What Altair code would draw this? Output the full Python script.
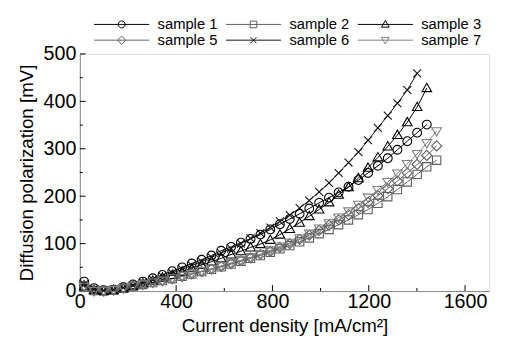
import altair as alt
import pandas as pd

# current density grid [mA/cm2]
x_vals = [18, 59, 99, 140, 181, 221, 262, 303, 343, 384, 425, 465, 506, 547, 587,
          628, 669, 709, 750, 791, 831, 872, 913, 953, 994, 1035, 1075, 1116, 1157,
          1197, 1238, 1279, 1319, 1360, 1401, 1441, 1482]

s1 = [20, 6, 2, 3, 8, 14, 20, 27, 34, 42, 50, 58, 66, 75, 85, 93, 102, 110, 119, 130,
      141, 152, 163, 174, 186, 197, 208, 220, 234, 249, 264, 280, 298, 316, 334, 351]
s2 = [8, 1, 0, 2, 6, 10, 14, 18, 22, 26, 31, 36, 41, 46, 51, 57, 63, 69, 75, 82, 89,
      96, 104, 112, 121, 130, 140, 150, 161, 172, 185, 199, 214, 230, 246, 262, 276]
s3 = [10, 2, 0, 2, 6, 11, 16, 22, 28, 34, 41, 48, 55, 62, 69, 77, 84, 92, 99, 108,
      119, 131, 144, 158, 172, 187, 203, 219, 238, 260, 282, 305, 329, 356, 388, 428]
s5 = [12, 1, 0, 2, 6, 10, 14, 18, 22, 26, 31, 36, 41, 46, 52, 58, 64, 70, 77, 84, 92,
      100, 109, 118, 128, 139, 150, 161, 174, 187, 201, 216, 232, 249, 267, 286, 306]
s6 = [14, 4, 1, 3, 7, 12, 18, 24, 31, 38, 46, 54, 62, 71, 80, 90, 100, 111, 122, 134,
      147, 160, 175, 191, 209, 228, 249, 271, 293, 318, 344, 370, 396, 424, 459]
s7 = [9, 0, 0, 2, 6, 10, 14, 18, 22, 27, 32, 37, 42, 47, 53, 59, 65, 71, 78, 86, 94,
      102, 111, 121, 132, 143, 155, 168, 182, 197, 213, 230, 248, 268, 289, 312, 337]

names = ["sample 1", "sample 2", "sample 3", "sample 5", "sample 6", "sample 7"]
series = [s1, s2, s3, s5, s6, s7]
colors = ["#000000", "#5e5e5e", "#000000", "#606060", "#111111", "#7e7e7e"]

marker_paths = [
    "M1,0A1,1 0 1,1 -1,0A1,1 0 1,1 1,0Z",
    "M-0.95,-0.95H0.95V0.95H-0.95Z",
    "M0,-1.1L1.1,0.8H-1.1Z",
    "M0,-1.15L1.15,0L0,1.15L-1.15,0Z",
    "M-0.9,-0.9L0.9,0.9M-0.9,0.9L0.9,-0.9",
    "M0,1.1L1.1,-0.8H-1.1Z",
]
legend_paths = [
    "M-1,0H1M0.125,0A0.125,0.125 0 1,1 -0.125,0A0.125,0.125 0 1,1 0.125,0Z",
    "M-1,0H1M-0.12,-0.12H0.12V0.12H-0.12Z",
    "M-1,0H1M0,-0.14L0.14,0.1H-0.14Z",
    "M-1,0H1M0,-0.15L0.15,0L0,0.15L-0.15,0Z",
    "M-1,0H1M-0.11,-0.11L0.11,0.11M-0.11,0.11L0.11,-0.11",
    "M-1,0H1M0,0.14L0.14,-0.1H-0.14Z",
]
# legend is filled column by column: rows read 1,2,3 / 5,6,7
legend_order = [0, 3, 1, 4, 2, 5]

x_major = [0, 400, 800, 1200, 1600]
x_minor = [200, 600, 1000, 1400]
y_major = [0, 100, 200, 300, 400, 500]
y_minor = [50, 150, 250, 350, 450]

rows = []
for n, ys_ in zip(names, series):
    for xv, yv in zip(x_vals, ys_):
        rows.append({"sample": n, "x": xv, "y": yv})
df = pd.DataFrame(rows)

FONT = "Liberation Sans"

x_enc = alt.X("x:Q", scale=alt.Scale(domain=[0, 1700], nice=False),
              axis=alt.Axis(values=x_major, title="Current density [mA/cm²]", grid=False,
                            format="d", ticks=False, tickSize=0, labelPadding=1, titlePadding=5,
                            labelFontSize=20, titleFontSize=19, titleFontWeight="normal",
                            labelFlush=False))
y_enc = alt.Y("y:Q", scale=alt.Scale(domain=[0, 500], nice=False),
              axis=alt.Axis(values=y_major, title="Diffusion polarization [mV]", grid=False,
                            format="d", ticks=False, tickSize=0, labelPadding=4, titlePadding=7,
                            labelFontSize=20, titleFontSize=19, titleFontWeight="normal",
                            labelFlush=False))

col_scale = alt.Scale(domain=names, range=colors)

lines = alt.Chart(df).mark_line(strokeWidth=1).encode(
    x=x_enc, y=y_enc,
    color=alt.Color("sample:N", scale=col_scale, legend=None),
)
points = alt.Chart(df).mark_point(filled=False, size=80, strokeWidth=1.1, opacity=1).encode(
    x=x_enc, y=y_enc,
    color=alt.Color("sample:N", scale=col_scale, legend=None),
    shape=alt.Shape("sample:N", scale=alt.Scale(domain=names, range=marker_paths), legend=None),
)

leg_names = [names[i] for i in legend_order]
leg_colors = [colors[i] for i in legend_order]
leg_paths = [legend_paths[i] for i in legend_order]
leg_props = dict(orient="none", legendX=14, legendY=-38, columns=3, clipHeight=16,
                 symbolSize=3136, symbolStrokeWidth=1, labelFontSize=15, labelFont=FONT,
                 labelColor="black", labelOffset=8, columnPadding=8, rowPadding=0,
                 padding=0, title=None, symbolOffset=0)
leg = alt.Chart(df).transform_filter("false").mark_point(filled=False, strokeWidth=1, opacity=1).encode(
    color=alt.Color("sample:N", scale=alt.Scale(domain=leg_names, range=leg_colors),
                    legend=alt.Legend(**leg_props)),
    shape=alt.Shape("sample:N", scale=alt.Scale(domain=leg_names, range=leg_paths),
                    legend=alt.Legend(**leg_props)),
)

def xticks(vals, length):
    return alt.Chart(pd.DataFrame({"x": vals})).mark_rule(color="black", strokeWidth=1).encode(
        x=x_enc, y=alt.datum(0), y2=alt.datum(length))

def yticks(vals, length):
    return alt.Chart(pd.DataFrame({"y": vals})).mark_rule(color="black", strokeWidth=1).encode(
        y=y_enc, x=alt.datum(0), x2=alt.datum(length))

chart = alt.layer(
    xticks(x_major, 12.5), xticks(x_minor, 6.5),
    yticks(y_major, 24), yticks(y_minor, 12.5),
    lines, points, leg,
).resolve_scale(color="independent", shape="independent").properties(
    width=416, height=241,
    autosize=alt.AutoSizeParams(type="none"),
    padding={"left": 73, "top": 44, "right": 8, "bottom": 44},
).configure_view(stroke="black", strokeWidth=1).configure_axis(
    domainColor="black", domainWidth=1, labelColor="black", titleColor="black",
    labelFont=FONT, titleFont=FONT, titleFontWeight="normal",
).configure(background="white")

chart.save("out.html", embed_options={"renderer": "svg", "actions": False})
